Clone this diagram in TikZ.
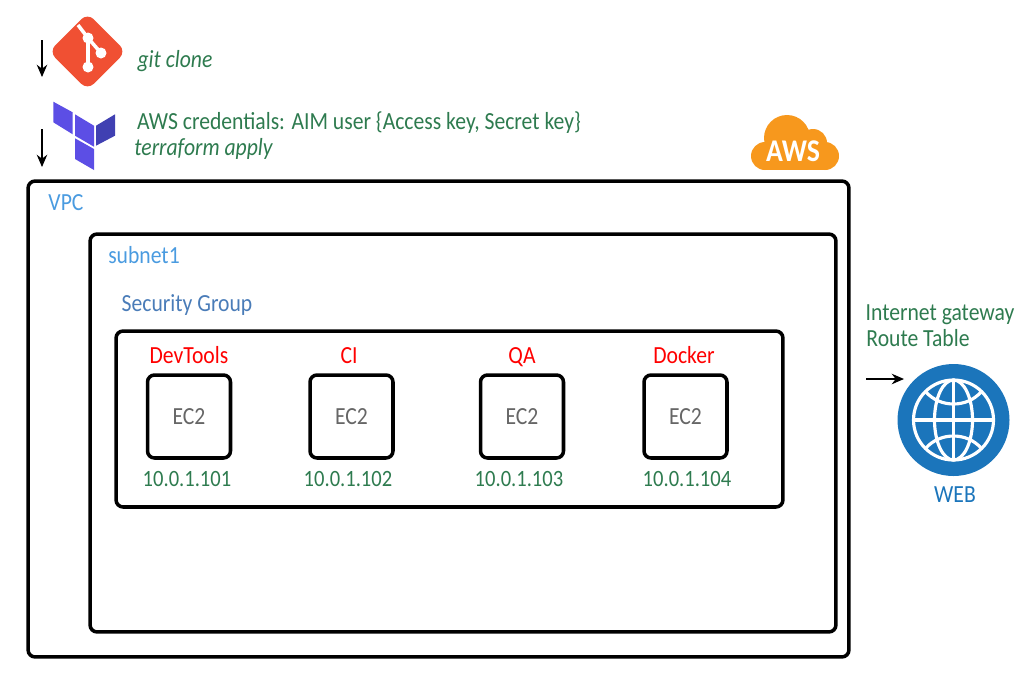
\documentclass[tikz,border=0pt]{standalone}
\usepackage{fontspec}
\setmainfont[FakeStretch=0.88]{Carlito}
\usetikzlibrary{arrows.meta,positioning}
\definecolor{txtgreen}{HTML}{2E7B4F}
\definecolor{vpcblue}{HTML}{4A9BE0}
\definecolor{sgblue}{HTML}{4A7CB8}
\definecolor{webblue}{HTML}{1B75BB}
\definecolor{gitred}{HTML}{F05033}
\definecolor{awsorange}{HTML}{F7981D}
\definecolor{tfpurple}{HTML}{5C4EE5}
\definecolor{tfdark}{HTML}{4040B2}
\tikzset{
	frame/.style={draw=black,line width=2pt,rounded corners=4pt,inner sep=0pt},
	ectwo/.style={frame,text=black!60,minimum width=1.66cm,minimum height=1.66cm,font=\fontsize{14}{16}\selectfont},
	lbl/.style={inner sep=0pt,anchor=mid,font=\fontsize{14}{16}\selectfont},
	ipaddr/.style={text=txtgreen,font=\fontsize{13.3}{16}\selectfont},
	flow/.style={-{Stealth[length=7pt,width=6pt]},line width=0.8pt},
}
\begin{document}
\begin{tikzpicture}[x=0.02cm,y=-0.02cm]
	\useasboundingbox (0,0) rectangle (1024,684);

	% boxes
	\node[frame,minimum width=16.42cm,minimum height=9.52cm] (vpc) at (438.5,419) {};
	\node[frame,minimum width=14.92cm,minimum height=7.96cm] (subnet) at (463,433) {};
	\node[frame,minimum width=13.34cm,minimum height=3.52cm] (secgroup) at (449.5,419) {};
	\node[ectwo] (devtools) at (189,416.5) {EC2};
	\node[ectwo] (ci) at (351.5,416.5) {EC2};
	\node[ectwo] (qa) at (522,416.5) {EC2};
	\node[ectwo] (docker) at (685.5,416.5) {EC2};

	% labels
	\begin{scope}[every node/.style={lbl}]
		\node[text=vpcblue] (vpclabel) at (66,206.5) {VPC};
		\node[text=vpcblue] (subnetlabel) at (144,259.5) {subnet1};
		\node[text=sgblue] (sglabel) at (187,307.5) {Security Group};
		\node[text=red] (devname) at (189,359.5) {DevTools};
		\node[text=red] (ciname) at (349,359.5) {CI};
		\node[text=red] (qaname) at (522,359.5) {QA};
		\node[text=red] (dockername) at (684,359.5) {Docker};
		\node[ipaddr] (devip) at (187,482.5) {10.0.1.101};
		\node[ipaddr] (ciip) at (348,482.5) {10.0.1.102};
		\node[ipaddr] (qaip) at (519,482.5) {10.0.1.103};
		\node[ipaddr] (dockerip) at (687,482.5) {10.0.1.104};
		\node[text=txtgreen,font=\fontsize{14}{16}\selectfont\itshape] (gitclone) at (175,63) {git clone};
		\node[text=txtgreen] (credentials) at (359,125) {AWS credentials: AIM user \{Access key, Secret key\}};
		\node[text=txtgreen,font=\fontsize{14}{16}\selectfont\itshape] (tfapply) at (203.5,151.5) {terraform apply};
		\node[text=txtgreen] (gateway) at (940,316.5) {Internet gateway};
		\node[text=txtgreen] (routetable) at (918,342.5) {Route Table};
		\node[text=webblue] (weblabel) at (955,498.5) {WEB};
	\end{scope}

	% arrows
	\coordinate (gitstart) at (42,40);
	\coordinate (gitend) at (42,77);
	\coordinate (tfstart) at (42,129);
	\coordinate (tfend) at (42,167);
	\coordinate (webstart) at (866,379);
	\coordinate (webend) at (904,379);
	\draw[flow] (gitstart) -- (gitend);
	\draw[flow] (tfstart) -- (tfend);
	\draw[flow] (webstart) -- (webend);

	% git logo
	\fill[gitred,rounded corners=5pt] (87.5,13) -- (126,51.5) -- (87.5,90) -- (49,51.5) -- cycle;
	\draw[white,line width=2pt] (78,25) -- (88,38) -- (88,67) (88,38) -- (101,53);
	\fill[white] (88,38) circle (5.5) (88,67) circle (5.5) (101,53) circle (5.5);

	% terraform logo
	\fill[tfpurple] (53.3,101.7) -- (72.7,112.3) -- (72.7,134.3) -- (53.3,122.3) -- cycle;
	\fill[tfpurple] (75,114.3) -- (94,125.7) -- (94,146.7) -- (75,135.7) -- cycle;
	\fill[tfpurple] (75,138.3) -- (94,149) -- (94,170) -- (75,159) -- cycle;
	\fill[tfdark] (96,125.7) -- (115,114.3) -- (115,135.7) -- (96,145.7) -- cycle;

	% aws cloud
	\fill[awsorange] (787,138) circle (23) (813,143) circle (14) (765,156) circle (14) (825,156) circle (14);
	\fill[awsorange] (765,145) rectangle (825,170);
	\node[white,inner sep=0pt,font=\fontsize{18}{20}\selectfont\bfseries] (awslabel) at (793,151) {AWS};

	% globe
	\fill[webblue] (953.5,420) circle (56);
	\begin{scope}[white,line width=1.8pt]
		\draw (953.5,420) circle (40);
		\draw (953.5,420) ellipse (19 and 40);
		\draw (953.5,380) -- (953.5,460);
		\draw (913.5,420) -- (993.5,420);
		\draw (926,392) .. controls (940,408) and (967,408) .. (981,392);
		\draw (926,448) .. controls (940,432) and (967,432) .. (981,448);
	\end{scope}
\end{tikzpicture}
\end{document}
